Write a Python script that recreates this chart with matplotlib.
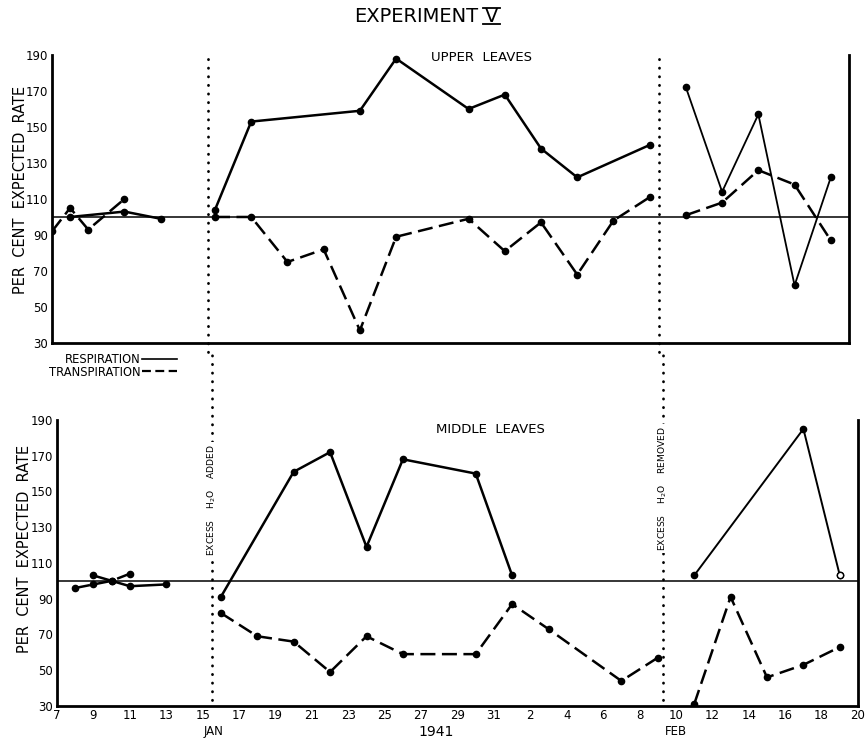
import matplotlib
matplotlib.use("Agg")
import matplotlib.pyplot as plt
from matplotlib.lines import Line2D
import matplotlib.transforms as mtransforms

# ---- data (day number: Jan 7 = 7 ... Jan 31 = 31, Feb 1 = 32 ... Feb 20 = 51)
up_pre_resp_days = [8, 11, 13]
up_pre_resp = [100, 103, 99]
up_pre_trans_days = [7, 8, 9, 11]
up_pre_trans = [92, 105, 93, 110]

up_mid_resp_days = [16, 18, 24, 26, 30, 32, 34, 36, 40]
up_mid_resp = [104, 153, 159, 188, 160, 168, 138, 122, 140]
up_mid_trans_days = [16, 18, 20, 22, 24, 26, 30, 32, 34, 36, 38, 40]
up_mid_trans = [100, 100, 75, 82, 37, 89, 99, 81, 97, 68, 98, 111]

up_post_days = [42, 44, 46, 48, 50]
up_post_resp = [172, 114, 157, 62, 122]
up_post_trans = [101, 108, 126, 118, 87]

mid_pre_resp_days = [9, 10, 11, 13]
mid_pre_resp = [103, 100, 97, 98]
mid_pre_trans_days = [8, 9, 10, 11]
mid_pre_trans = [96, 98, 100, 104]

mid_mid_resp_days = [16, 20, 22, 24, 26, 30, 32]
mid_mid_resp = [91, 161, 172, 119, 168, 160, 103]
mid_mid_trans_days = [16, 18, 20, 22, 24, 26, 30, 32, 34, 38, 40]
mid_mid_trans = [82, 69, 66, 49, 69, 59, 59, 87, 73, 44, 57]

mid_post_resp_days = [42, 48, 50]
mid_post_resp = [103, 185, 103]
mid_post_trans_days = [42, 44, 46, 48, 50]
mid_post_trans = [31, 91, 46, 53, 63]

y_ticks = [30, 50, 70, 90, 110, 130, 150, 170, 190]
x_ticks = list(range(7, 52, 2))
x_labels = [str(d) if d <= 31 else str(d - 31) for d in x_ticks]

DASH = (0, (6, 2.6))
DOT = (0, (0.1, 3.0))


def setup(ax):
    ax.set_xlim(7, 51)
    ax.set_ylim(30, 190)
    ax.spines['top'].set_visible(False)
    for s in ['left', 'bottom', 'right']:
        ax.spines[s].set_linewidth(2.0)
    ax.set_yticks(y_ticks)
    ax.set_yticklabels([str(v) for v in y_ticks], fontsize=8.5)
    ax.tick_params(axis='y', length=0, pad=3)
    ax.axhline(100, color='black', lw=1.1, zorder=1)


def series(ax, days, vals, dashed=False, lw=1.8):
    ls = DASH if dashed else '-'
    ax.plot(days, vals, color='black', lw=lw, linestyle=ls,
            marker='o', ms=4.5, zorder=3)


fig = plt.figure(figsize=(8.68, 7.39), dpi=100)
ax1 = fig.add_axes([0.0599, 0.5359, 0.9181, 0.3897])
ax2 = fig.add_axes([0.0657, 0.0447, 0.9228, 0.3870])

# upper leaves
setup(ax1)
ax1.set_xticks([])
series(ax1, up_pre_resp_days, up_pre_resp)
series(ax1, up_pre_trans_days, up_pre_trans, dashed=True)
series(ax1, up_mid_resp_days, up_mid_resp)
series(ax1, up_mid_trans_days, up_mid_trans, dashed=True)
series(ax1, up_post_days, up_post_resp, lw=1.3)
series(ax1, up_post_days, up_post_trans, dashed=True)
for d in [15.6, 40.5]:
    ax1.axvline(d, ymin=-0.03, ymax=1.01, color='black', lw=2.0,
                linestyle=DOT, dash_capstyle='round', clip_on=False)
tr1 = mtransforms.blended_transform_factory(ax1.transData, ax1.transAxes)
ax1.text(30.7, 0.99, "UPPER  LEAVES", transform=tr1, ha='center',
         va='center', fontsize=9.5)
ax1.text(-0.04, 0.53, "PER  CENT  EXPECTED  RATE", transform=ax1.transAxes,
         rotation=90, ha='center', va='center', fontsize=10.5)

# middle leaves
setup(ax2)
ax2.set_xticks(x_ticks)
ax2.set_xticklabels(x_labels, fontsize=8.5)
ax2.tick_params(axis='x', length=0, pad=2)
series(ax2, mid_pre_resp_days, mid_pre_resp)
series(ax2, mid_pre_trans_days, mid_pre_trans, dashed=True)
series(ax2, mid_mid_resp_days, mid_mid_resp)
series(ax2, mid_mid_trans_days, mid_mid_trans, dashed=True)
series(ax2, mid_post_resp_days, mid_post_resp, lw=1.4)
ax2.plot(mid_post_resp_days[-1:], mid_post_resp[-1:], 'o', ms=4.5,
         mfc='white', mec='black', zorder=4)
series(ax2, mid_post_trans_days, mid_post_trans, dashed=True)
for d in [15.5, 40.3]:
    ax2.axvline(d, ymin=0.02, ymax=1.25, color='black', lw=2.0,
                linestyle=DOT, dash_capstyle='round', clip_on=False)
tr2 = mtransforms.blended_transform_factory(ax2.transData, ax2.transAxes)
ax2.text(30.8, 0.965, "MIDDLE  LEAVES", transform=tr2, ha='center',
         va='center', fontsize=9.5)
box = dict(facecolor='white', edgecolor='none', pad=1.5)
ax2.text(15.5, 0.72, "EXCESS    H$_2$O    ADDED", transform=tr2, rotation=90,
         ha='center', va='center', fontsize=6.6, bbox=box, zorder=5)
ax2.text(40.3, 0.76, "EXCESS    H$_2$O    REMOVED", transform=tr2,
         rotation=90, ha='center', va='center', fontsize=6.6, bbox=box,
         zorder=5)
ax2.text(-0.04, 0.55, "PER  CENT  EXPECTED  RATE", transform=ax2.transAxes,
         rotation=90, ha='center', va='center', fontsize=10.5)
ax2.text(15.6, -0.09, "JAN", transform=tr2, ha='center', va='center',
         fontsize=8.5)
ax2.text(27.8, -0.092, "1941", transform=tr2, ha='center', va='center',
         fontsize=10)
ax2.text(41.0, -0.09, "FEB", transform=tr2, ha='center', va='center',
         fontsize=8.5)

# legend
handles = [Line2D([], [], color='black', lw=1.2),
           Line2D([], [], color='black', lw=1.6, linestyle=(0, (4, 2)))]
fig.legend(handles, ["RESPIRATION", "TRANSPIRATION"], loc='center left',
           bbox_to_anchor=(0.05, 0.505), frameon=False, markerfirst=False,
           fontsize=8.3, handlelength=3.0, handletextpad=0.1,
           labelspacing=-0.05, borderpad=0)

# title with bars on the roman numeral
fig.text(0.551, 0.978, "EXPERIMENT", ha='right', va='center', fontsize=14)
tv = fig.text(0.559, 0.978, "V", ha='left', va='center', fontsize=14)
fig.canvas.draw()
bb = tv.get_window_extent().transformed(fig.transFigure.inverted())
for yy in [bb.y0 + 0.003, bb.y1 - 0.002]:
    fig.add_artist(Line2D([bb.x0 - 0.002, bb.x1 + 0.002], [yy, yy],
                          color='black', lw=1.3, transform=fig.transFigure))

fig.savefig("out.png", dpi=100)
